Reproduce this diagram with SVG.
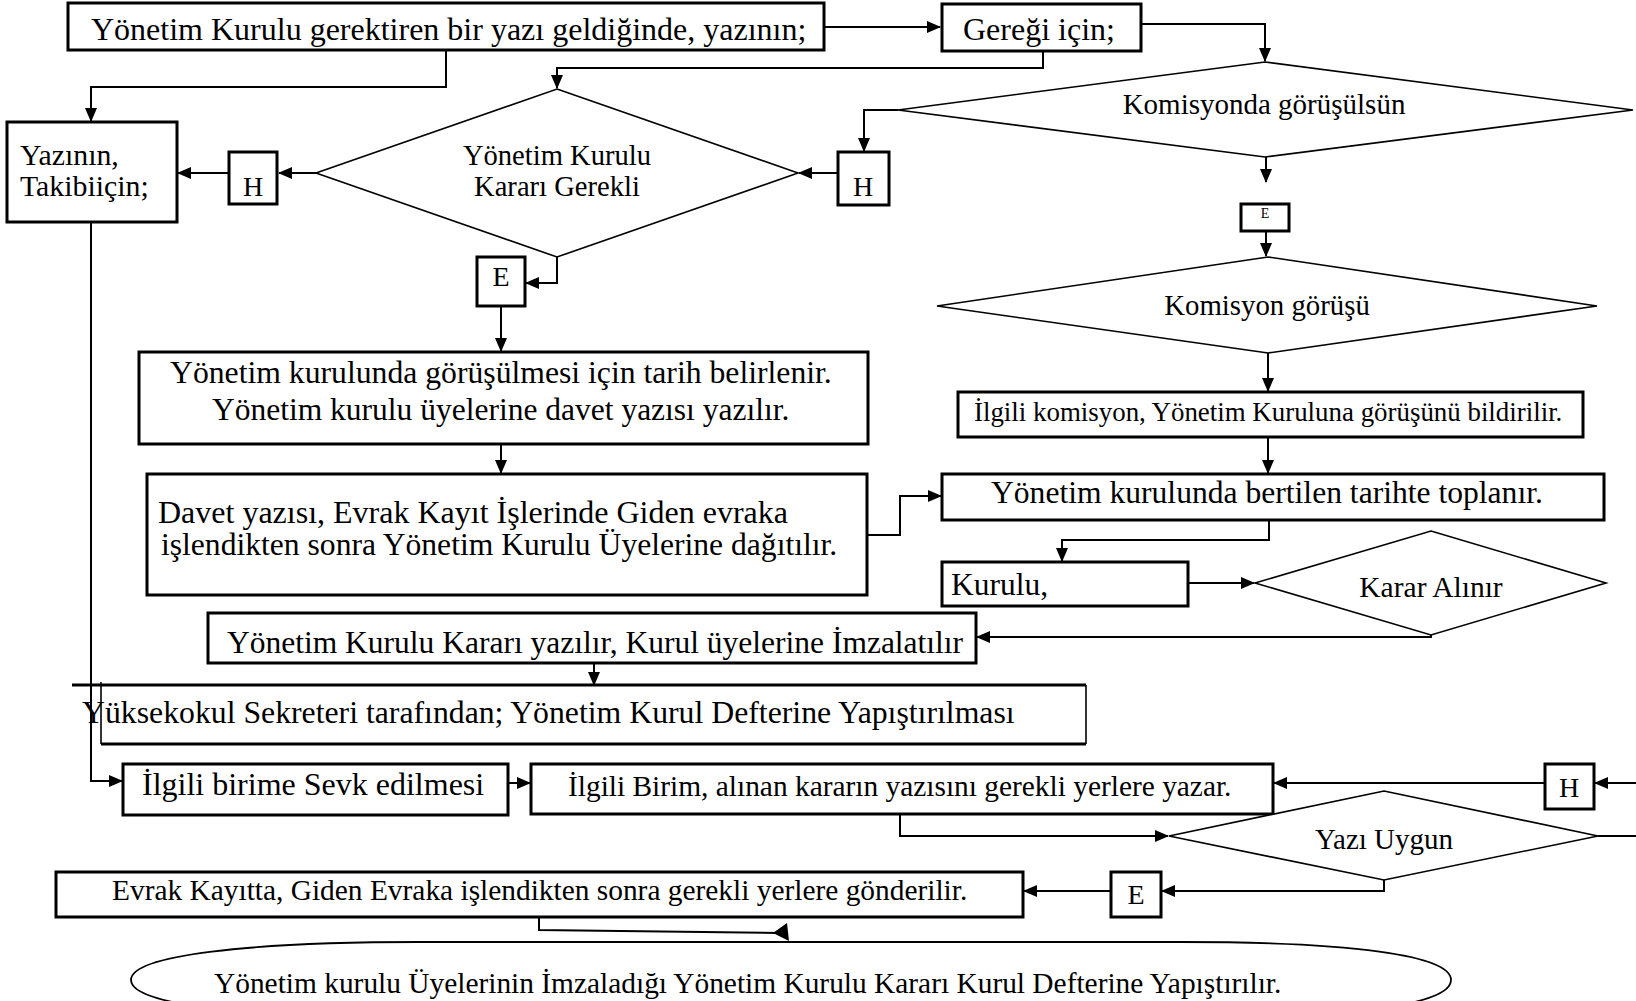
<svg xmlns="http://www.w3.org/2000/svg" width="1636" height="1001" viewBox="0 0 1636 1001">
<defs>
<style>
.bx{fill:#fff;stroke:#000;stroke-width:3}
.dm{fill:#fff;stroke:#000;stroke-width:1.6}
.cn{fill:none;stroke:#000;stroke-width:2}
.t{font-family:"Liberation Serif","Times New Roman",serif;fill:#000}
.m{text-anchor:middle}
</style>
<marker id="ah" markerUnits="userSpaceOnUse" markerWidth="14" markerHeight="12" refX="13" refY="6" orient="auto" viewBox="0 0 14 12">
<path d="M0,0 L14,6 L0,12 z" fill="#000"/>
</marker>
</defs>
<rect width="1636" height="1001" fill="#fff"/>

<g id="connectors" class="cn">
<path d="M824,27 L940,27" marker-end="url(#ah)"/>
<path d="M1141,24 L1265,24 L1265,61" marker-end="url(#ah)"/>
<path d="M1043,51 L1043,68 L557,68 L557,88" marker-end="url(#ah)"/>
<path d="M446,50 L446,87 L91,87 L91,121" marker-end="url(#ah)"/>
<path d="M316,173 L279,173" marker-end="url(#ah)"/>
<path d="M229,173 L178,173" marker-end="url(#ah)"/>
<path d="M838,173 L799,173" marker-end="url(#ah)"/>
<path d="M898,110 L864,110 L864,151" marker-end="url(#ah)"/>
<path d="M1266,157 L1266,182" marker-end="url(#ah)"/>
<path d="M1266,231 L1266,256" marker-end="url(#ah)"/>
<path d="M1268,353 L1268,391" marker-end="url(#ah)"/>
<path d="M1268,437 L1268,473" marker-end="url(#ah)"/>
<path d="M557,257 L557,283 L526,283" marker-end="url(#ah)"/>
<path d="M501,306 L501,351" marker-end="url(#ah)"/>
<path d="M501,444 L501,473" marker-end="url(#ah)"/>
<path d="M867,535 L900,535 L900,496 L941,496" marker-end="url(#ah)"/>
<path d="M1269,520 L1269,540 L1062,540 L1062,561" marker-end="url(#ah)"/>
<path d="M1188,583 L1254,583" marker-end="url(#ah)"/>
<path d="M1431,635 L1431,637 L977,637" marker-end="url(#ah)"/>
<path d="M594,663 L594,685" marker-end="url(#ah)"/>
<path d="M91,222 L91,781 L122,781" marker-end="url(#ah)"/>
<path d="M508,783 L530,783" marker-end="url(#ah)"/>
<path d="M1598,836 L1640,836 L1640,783 L1595,783" marker-end="url(#ah)"/>
<path d="M1545,783 L1274,783" marker-end="url(#ah)"/>
<path d="M900,814 L900,836 L1168,836" marker-end="url(#ah)"/>
<path d="M1384,880 L1384,891 L1162,891" marker-end="url(#ah)"/>
<path d="M1111,891 L1024,891" marker-end="url(#ah)"/>
<path d="M539,917 L539,930 L780,933"/>
<polygon points="787,923 773,933 789,941" fill="#000" stroke="none"/>
</g>

<g id="n-top">
<rect class="bx" x="68" y="3" width="756" height="47"/>
<text class="t" x="91" y="40" font-size="32">Yönetim Kurulu gerektiren bir yazı geldiğinde, yazının;</text>
</g>
<g id="n-geregi">
<rect class="bx" x="942" y="4" width="199" height="47"/>
<text class="t" x="963" y="40" font-size="32">Gereği için;</text>
</g>
<g id="n-yazinin">
<rect class="bx" x="7" y="122" width="170" height="100"/>
<text class="t" x="20" y="165" font-size="29.8">Yazının,</text>
<text class="t" x="20" y="196" font-size="29.8">Takibiiçin;</text>
</g>
<g id="n-yk-gerekli">
<polygon class="dm" points="557,89 798,173 557,257 316,173"/>
<text class="t m" x="557" y="165" font-size="28.6">Yönetim Kurulu</text>
<text class="t m" x="557" y="196" font-size="28.6">Kararı Gerekli</text>
</g>
<g id="n-h1">
<rect class="bx" x="229" y="152" width="48" height="52"/>
<text class="t m" x="253" y="196" font-size="28">H</text>
</g>
<g id="n-h2">
<rect class="bx" x="838" y="152" width="51" height="53"/>
<text class="t m" x="863" y="196" font-size="28">H</text>
</g>
<g id="n-komisyonda">
<polygon class="dm" points="1265,62 1633,110 1265,157 898,110"/>
<text class="t m" x="1264" y="114" font-size="29">Komisyonda görüşülsün</text>
</g>
<g id="n-e1">
<rect class="bx" x="1241" y="204" width="48" height="27"/>
<text class="t m" x="1265" y="218" font-size="14">E</text>
</g>
<g id="n-komisyon-gorusu">
<polygon class="dm" points="1268,257 1597,306 1268,353 937,306"/>
<text class="t m" x="1267" y="315" font-size="28.8">Komisyon görüşü</text>
</g>
<g id="n-ilgili-komisyon">
<rect class="bx" x="958" y="392" width="625" height="45"/>
<text class="t" x="974" y="421" font-size="26.9">İlgili komisyon, Yönetim Kuruluna görüşünü bildirilir.</text>
</g>
<g id="n-e2">
<rect class="bx" x="477" y="257" width="48" height="49"/>
<text class="t m" x="501" y="286" font-size="28">E</text>
</g>
<g id="n-tarih">
<rect class="bx" x="139" y="352" width="729" height="92"/>
<text class="t" x="170" y="383" font-size="31.7">Yönetim kurulunda görüşülmesi için tarih belirlenir.</text>
<text class="t" x="212" y="420" font-size="31.5">Yönetim kurulu üyelerine davet yazısı yazılır.</text>
</g>
<g id="n-davet">
<rect class="bx" x="147" y="474" width="720" height="121"/>
<text class="t" x="158" y="523" font-size="32">Davet yazısı, Evrak Kayıt İşlerinde Giden evraka</text>
<text class="t" x="161" y="555" font-size="31.6">işlendikten sonra Yönetim Kurulu Üyelerine dağıtılır.</text>
</g>
<g id="n-toplanir">
<rect class="bx" x="942" y="474" width="662" height="46"/>
<text class="t" x="991" y="503" font-size="31.6">Yönetim kurulunda bertilen tarihte toplanır.</text>
</g>
<g id="n-kurulu">
<rect class="bx" x="942" y="562" width="246" height="44"/>
<text class="t" x="951" y="595" font-size="31.5">Kurulu,</text>
</g>
<g id="n-karar">
<polygon class="dm" points="1431,531 1606,583 1431,635 1255,583"/>
<text class="t m" x="1431" y="597" font-size="29.5">Karar Alınır</text>
</g>
<g id="n-karar-yazilir">
<rect class="bx" x="208" y="613" width="768" height="50"/>
<text class="t" x="227" y="653" font-size="31.5">Yönetim Kurulu Kararı yazılır, Kurul üyelerine İmzalatılır</text>
</g>
<g id="n-yuksekokul">
<line x1="72" y1="685" x2="1086" y2="685" stroke="#000" stroke-width="3"/>
<line x1="101" y1="744" x2="1086" y2="744" stroke="#000" stroke-width="3"/>
<line x1="101" y1="682" x2="101" y2="744" stroke="#000" stroke-width="1.6"/>
<line x1="1086" y1="685" x2="1086" y2="744" stroke="#000" stroke-width="1.6"/>
<text class="t" x="82" y="723" font-size="31.75">Yüksekokul Sekreteri tarafından; Yönetim Kurul Defterine Yapıştırılması</text>
</g>
<g id="n-sevk">
<rect class="bx" x="123" y="764" width="385" height="51"/>
<text class="t" x="142" y="795" font-size="32">İlgili birime Sevk edilmesi</text>
</g>
<g id="n-birim">
<rect class="bx" x="531" y="764" width="742" height="50"/>
<text class="t" x="568" y="796" font-size="29.4">İlgili Birim, alınan kararın yazısını gerekli yerlere yazar.</text>
</g>
<g id="n-h3">
<rect class="bx" x="1545" y="764" width="49" height="45"/>
<text class="t m" x="1569" y="797" font-size="28">H</text>
</g>
<g id="n-yazi-uygun">
<polygon class="dm" points="1384,791 1598,836 1384,880 1169,836"/>
<text class="t m" x="1384" y="849" font-size="29">Yazı Uygun</text>
</g>
<g id="n-e3">
<rect class="bx" x="1111" y="872" width="50" height="45"/>
<text class="t m" x="1136" y="904" font-size="28">E</text>
</g>
<g id="n-evrak">
<rect class="bx" x="56" y="872" width="967" height="45"/>
<text class="t" x="112" y="900" font-size="29.4">Evrak Kayıtta, Giden Evraka işlendikten sonra gerekli yerlere gönderilir.</text>
</g>
<g id="n-son">
<path d="M131,980 C131,955 250,942 420,942 L1180,942 C1350,942 1451,955 1451,980 C1451,1005 1350,1018 1180,1018 L420,1018 C250,1018 131,1005 131,980 Z" fill="#fff" stroke="#000" stroke-width="1.8"/>
<text class="t" x="214" y="993" font-size="29.4">Yönetim kurulu Üyelerinin İmzaladığı Yönetim Kurulu Kararı Kurul Defterine Yapıştırılır.</text>
</g>
</svg>
